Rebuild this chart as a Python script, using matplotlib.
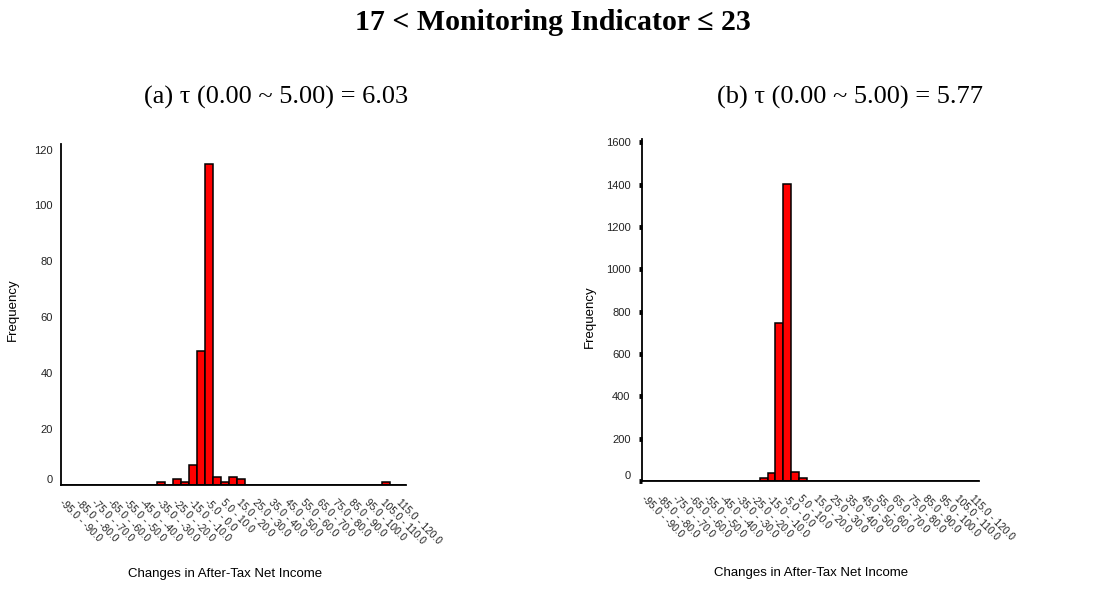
# ==========================================================
# Histogram of after-tax net income changes, two tau cases
# ==========================================================

import numpy as np
import matplotlib
matplotlib.use("Agg")
import matplotlib.pyplot as plt
import matplotlib.transforms as mtransforms

# ==========================
# Data
# ==========================

# lower edge of each 5-wide bin, -95 ... 115
bin_starts = list(range(-95, 120, 5))

freq_a = [0, 0, 0, 0, 0, 0, 0, 0, 0, 0,
          0, 0, 1, 0, 2, 1, 7, 48, 115, 3,
          1, 3, 2, 0, 0, 0, 0, 0, 0, 0,
          0, 0, 0, 0, 0, 0, 0, 0, 0, 0,
          1, 0, 0]

freq_b = [0, 0, 0, 0, 0, 0, 0, 0, 0, 0,
          0, 0, 0, 0, 0, 13, 36, 746, 1405, 45,
          12, 0, 0, 0, 0, 0, 0, 0, 0, 0,
          0, 0, 0, 0, 0, 0, 0, 0, 0, 0,
          0, 0, 0]

yticks_a = [0, 20, 40, 60, 80, 100, 120]
yticks_b = [0, 200, 400, 600, 800, 1000, 1200, 1400, 1600]

main_title = "17 < Monitoring Indicator \u2264 23"
title_a = "(a) \u03c4 (0.00 ~ 5.00) = 6.03"
title_b = "(b) \u03c4 (0.00 ~ 5.00) = 5.77"
x_title = "Changes in After-Tax Net Income"
y_title = "Frequency"

bin_labels = [f"{lo:.1f} - {lo + 5:.1f}" for lo in bin_starts]

# ==========================
# Figure
# ==========================

plt.rcParams["font.family"] = ["Liberation Sans", "DejaVu Sans"]

fig = plt.figure(figsize=(11.05, 6.04), dpi=100)

ax_a = fig.add_axes([0.0552, 0.197, 0.3119, 0.5646])
ax_b = fig.add_axes([0.5813, 0.2036, 0.3047, 0.5658])

serif = ["Liberation Serif", "DejaVu Serif"]

fig.text(0.5, 0.962, main_title, ha="center", va="center",
         fontsize=21.5, fontweight="bold", family=serif)
fig.text(0.250, 0.838, title_a, ha="center", va="center",
         fontsize=19, family=serif)
fig.text(0.769, 0.838, title_b, ha="center", va="center",
         fontsize=19, family=serif)


def draw_hist(ax, freq, yticks, ymax, tick_len, tick_w, ylab_xy, xlab_xy):
    x = np.arange(len(freq))
    ax.bar(x, freq, width=1.0, color="#ff0000",
           edgecolor="black", linewidth=1.1, zorder=2)

    ax.set_xlim(-0.5, len(freq) - 0.5)
    ax.set_ylim(0, ymax)

    for side in ["top", "right"]:
        ax.spines[side].set_visible(False)
    for side in ["left", "bottom"]:
        ax.spines[side].set_linewidth(1.3)
        ax.spines[side].set_zorder(3)

    # every second bin gets a label
    ax.set_xticks(x[::2])
    ax.set_xticklabels(bin_labels[::2], rotation=-45, ha="left", va="top",
                       rotation_mode="anchor", fontsize=7.3, color="#222222")
    ax.tick_params(axis="x", length=0, pad=9)

    ax.set_yticks(yticks)
    ax.set_yticklabels([str(v) for v in yticks], fontsize=8, color="#222222")
    ax.tick_params(axis="y", direction="out", length=tick_len, width=tick_w,
                   pad=6)

    # the zero label sits a little above the axis line
    shift = mtransforms.ScaledTranslation(0, 6 / 100, fig.dpi_scale_trans)
    zero_label = ax.get_yticklabels()[0]
    zero_label.set_transform(zero_label.get_transform() + shift)

    ax.set_ylabel(y_title, fontsize=9.5)
    ax.yaxis.set_label_coords(*ylab_xy)
    ax.set_xlabel(x_title, fontsize=9.5)
    ax.xaxis.set_label_coords(*xlab_xy)


draw_hist(ax_a, freq_a, yticks_a, 122, 0, 0,
          (-0.122, 0.513), (0.476, -0.242))
draw_hist(ax_b, freq_b, yticks_b, 1615, 2.5, 3.5,
          (-0.1375, 0.48), (0.501, -0.253))

fig.savefig("out.png", dpi=100)
